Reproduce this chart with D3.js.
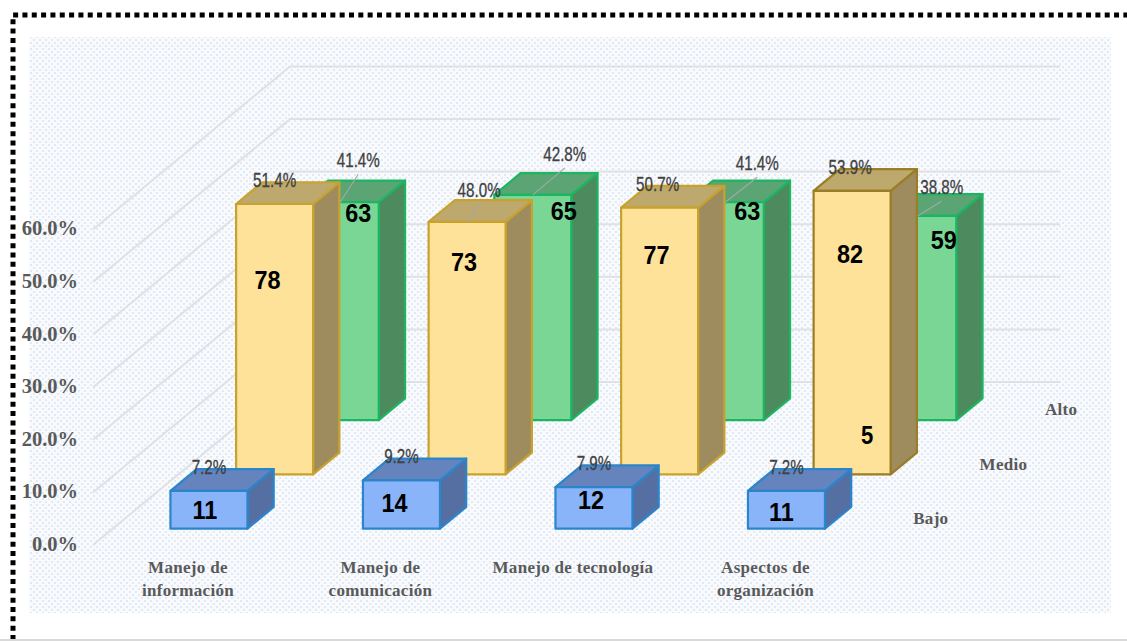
<!DOCTYPE html>
<html>
<head>
	<meta charset="UTF-8">
	<title>Chart</title>
	<script src="https://cdnjs.cloudflare.com/ajax/libs/d3/7.8.5/d3.min.js"></script>
	<style>
		html, body { margin: 0; padding: 0; background: #fff; }
		svg { display: block; }
		.tick-label { font: bold 20.5px "Liberation Serif", serif; fill: #595959; }
		.cat-label { font: bold 17px "Liberation Serif", serif; fill: #595959; text-anchor: middle; letter-spacing: 0.3px; }
		.pct-label { font: 20px "Liberation Sans", sans-serif; fill: #404040; stroke: #404040; stroke-width: 0.3px; text-anchor: middle; }
		.count-label { font: bold 26px "Liberation Sans", sans-serif; fill: #000; text-anchor: middle; }
	</style>
</head>
<body>
<svg id="chart" width="1127" height="641"></svg>
<script type="text/javascript">
// data
var categories = [["Manejo de", "información"], ["Manejo de", "comunicación"], ["Manejo de tecnología"], ["Aspectos de", "organización"]];
var seriesNames = ["Bajo", "Medio", "Alto"];
var bajoPct = [7.2, 9.2, 7.9, 7.2];
var medioPct = [51.4, 48.0, 50.7, 53.9];
var altoPct = [41.4, 42.8, 41.4, 38.8];
var bajoCount = [11, 14, 12, 11];
var medioCount = [78, 73, 77, 82];
var altoCount = [63, 65, 63, 59];
var yTicks = [0, 10, 20, 30, 40, 50, 60];

// label nudges from the top middle of each front face, [dx, dy]
var pctNudge = [
	[[0, -24], [0, -24], [0, -24], [0, -24]],
	[[0, -24], [12, -32], [-2, -24], [-2, -24]],
	[[18, -42], [32, -41], [32, -39], [24, -29]]
];
var countNudge = [
	[[-4, 19], [-7, 23], [-3, 13], [-5, 21]],
	[[-7, 76], [-3, 40], [-3, 47], [-2, 63]],
	[[18, 11], [31, 16], [22, 9], [26, 24]]
];
var seriesLabelNudge = [35, 42, 34];

var seriesColors = [
	{ front: "#8ab4f9", top: "#6583bd", side: "#566fa3", stroke: "#2a85cb" },
	{ front: "#ffe299", top: "#bda86e", side: "#9f8c5e", stroke: "#c9a22e" },
	{ front: "#7ad695", top: "#5aa573", side: "#4d8a5e", stroke: "#1cb562" }
];

var svg = d3.select("#chart");
var defs = svg.append("defs");

var floorLeft = 93, floorRight = 863, floorFront = 545;
var depthX = 197, depthY = 163;

var x = d3.scaleBand().domain(d3.range(categories.length)).range([floorLeft, floorRight]).paddingInner(0.6).paddingOuter(0.3);
var z = d3.scaleBand().domain(d3.range(seriesNames.length)).range([0, depthX]).paddingInner(0.6).paddingOuter(0.3);
var zy = d3.scaleLinear().domain([0, depthX]).range([0, depthY]);
var y = d3.scaleLinear().domain([0, 60]).range([0, 315.6]);

var pctBySeries = [bajoPct, medioPct, altoPct];
var countBySeries = [bajoCount, medioCount, altoCount];

// squeeze a label sideways around its own x
function placeSqueezed(sel, px, py, sx) {
	return sel.attr("transform", "translate(" + px + "," + py + ") scale(" + sx + ",1)");
}

// page frame and dotted plot background
var pattern = defs.append("pattern").attr("id", "dots").attr("patternUnits", "userSpaceOnUse").attr("width", 6).attr("height", 6);
pattern.append("rect").attr("width", 6).attr("height", 6).attr("fill", "#f8fafd");
pattern.append("rect").attr("x", 0).attr("y", 0).attr("width", 2).attr("height", 2).attr("fill", "#e0e9f4");
pattern.append("rect").attr("x", 3).attr("y", 3).attr("width", 2).attr("height", 2).attr("fill", "#e0e9f4");

svg.append("rect").attr("x", 29).attr("y", 37).attr("width", 1082).attr("height", 576).attr("fill", "url(#dots)");
svg.append("path").attr("d", "M13,640V15H1127").attr("fill", "none").attr("stroke", "#000")
	.attr("stroke-width", 5).attr("stroke-dasharray", "5 4.33");
svg.append("line").attr("x1", 0).attr("x2", 1127).attr("y1", 640).attr("y2", 640).attr("stroke", "#d9d9d9").attr("stroke-width", 2);

// gridlines along the left wall and back wall
var gridG = svg.append("g");
yTicks.forEach(function(t) {
	gridG.append("polyline")
		.attr("points", [
			[floorLeft, floorFront - y(t)],
			[floorLeft + depthX, floorFront - y(t) - depthY],
			[floorRight + depthX, floorFront - y(t) - depthY]
		].join(" "))
		.attr("fill", "none")
		.attr("stroke", "#dfe1e4")
		.attr("stroke-width", 2);
	svg.append("text")
		.attr("class", "tick-label")
		.attr("x", 78)
		.attr("y", floorFront - y(t) + 6)
		.attr("text-anchor", "end")
		.text(d3.format(".1f")(t) + "%");
});

function barBox(s, c) {
	var left = x(c) + z(s);
	var base = floorFront - zy(z(s));
	return {
		left: left,
		right: left + x.bandwidth(),
		base: base,
		top: base - y(pctBySeries[s][c]),
		dx: z.bandwidth(),
		dy: zy(z.bandwidth())
	};
}

// back row first so the front rows cover it
d3.range(seriesNames.length).reverse().forEach(function(s) {
	var col = seriesColors[s];
	d3.range(categories.length).forEach(function(c) {
		var b = barBox(s, c);
		var g = svg.append("g")
			.attr("stroke", (s == 1 && c == 3) ? "#9a7d24" : col.stroke)
			.attr("stroke-width", 2.2)
			.attr("stroke-linejoin", "round");
		g.append("polygon")
			.attr("points", [[b.right, b.top], [b.right + b.dx, b.top - b.dy], [b.right + b.dx, b.base - b.dy], [b.right, b.base]].join(" "))
			.attr("fill", col.side);
		g.append("polygon")
			.attr("points", [[b.left, b.top], [b.left + b.dx, b.top - b.dy], [b.right + b.dx, b.top - b.dy], [b.right, b.top]].join(" "))
			.attr("fill", col.top);
		g.append("rect")
			.attr("x", b.left)
			.attr("y", b.top)
			.attr("width", b.right - b.left)
			.attr("height", b.base - b.top)
			.attr("fill", col.front);
	});
});

// data labels go on after every bar
d3.range(seriesNames.length).forEach(function(s) {
	d3.range(categories.length).forEach(function(c) {
		var b = barBox(s, c);
		var mid = (b.left + b.right) / 2;
		var pn = pctNudge[s][c];
		var cn = countNudge[s][c];
		if (s == 2 || (s == 1 && c == 1)) {
			svg.append("line")
				.attr("x1", mid).attr("y1", b.top)
				.attr("x2", mid + pn[0]).attr("y2", b.top + pn[1] + 14)
				.attr("stroke", "#a6a6a6").attr("stroke-width", 1.2);
		}
		placeSqueezed(svg.append("text").attr("class", "pct-label"), mid + pn[0], b.top + pn[1] + 7, 0.76)
			.text(d3.format(".1f")(pctBySeries[s][c]) + "%");
		placeSqueezed(svg.append("text").attr("class", "count-label"), mid + cn[0], b.top + cn[1] + 9, 0.9)
			.text(countBySeries[s][c]);
	});
});

// the stray 5 on the last yellow bar
var lastMedio = barBox(1, 3);
placeSqueezed(svg.append("text").attr("class", "count-label"), (lastMedio.left + lastMedio.right) / 2 + 15, lastMedio.top + 253, 0.85)
	.text(5);

// category labels below the floor
categories.forEach(function(lines, c) {
	var t = svg.append("text").attr("class", "cat-label");
	lines.forEach(function(line, i) {
		t.append("tspan")
			.attr("x", x(c) + x.bandwidth() / 2 + z(0) - 21)
			.attr("y", 573 + i * 23)
			.text(line);
	});
});

// series names along the right of the floor
seriesNames.forEach(function(name, s) {
	svg.append("text")
		.attr("class", "cat-label")
		.attr("x", floorRight + z(s) + z.bandwidth() / 2 + seriesLabelNudge[s])
		.attr("y", floorFront - zy(z(s) + z.bandwidth() / 2) + 6)
		.text(name);
});
</script>
</body>
</html>
